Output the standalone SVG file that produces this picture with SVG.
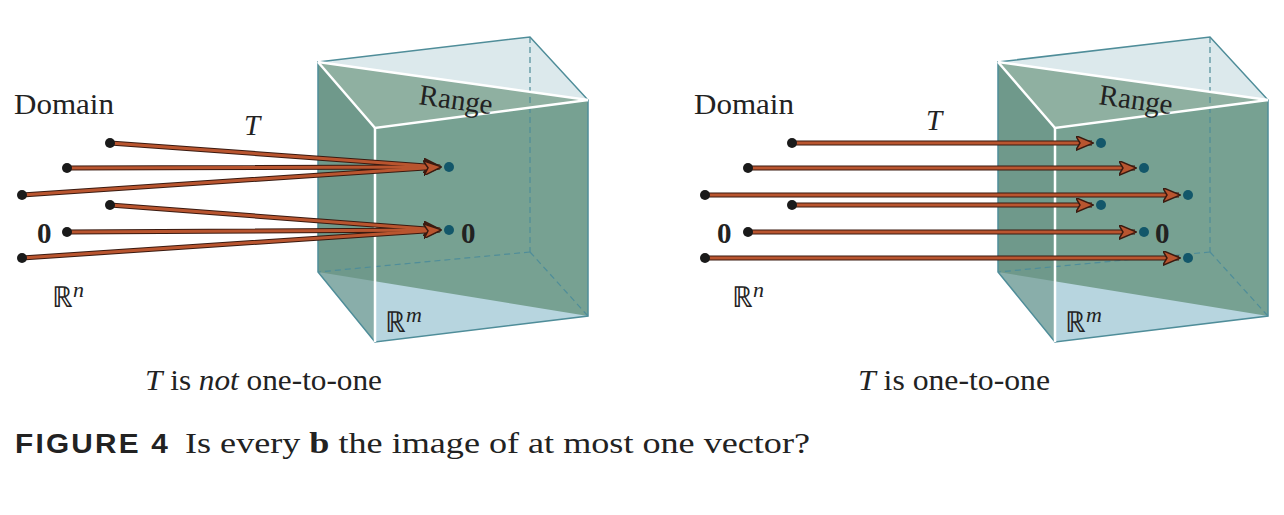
<svg xmlns="http://www.w3.org/2000/svg" width="1284" height="515" viewBox="0 0 1284 515">
<defs>
<style>
.t{font-family:"Liberation Serif",serif;font-size:29px;fill:#222}
.edge{fill:none;stroke:#4f8d99;stroke-width:1.5}
.dash{fill:none;stroke:#4f8d99;stroke-width:1.2;stroke-dasharray:6 4}
.wht{fill:none;stroke:#fff;stroke-width:2.5}
.aO{stroke:#3a1a10;stroke-width:5;fill:none}
.aI{stroke:#b9552f;stroke-width:3;fill:none}
</style>
<marker id="ah" viewBox="0 0 12 10" refX="11" refY="5" markerWidth="6" markerHeight="5" orient="auto" markerUnits="strokeWidth"><path d="M0,0 L12,5 L0,10 L3,5Z" fill="#b9552f" stroke="#3a1a10" stroke-width="1"/></marker>
<g id="box">
<polygon points="318,62 530,37 588,100 375,128" fill="#dce9ec"/>
<polygon points="318,272 375,342 588,316 530,252" fill="#b7d5df"/>
<polygon points="318,62 588,100 588,316 318,272" fill="#77a192"/>
<polygon points="318,62 375,128 588,100" fill="#8fb0a1"/>
<polygon points="318,62 375,128 375,342 318,272" fill="#6a9587" opacity="0.6"/>
<line class="dash" x1="530" y1="37" x2="530" y2="252"/>
<line class="dash" x1="530" y1="252" x2="318" y2="272"/>
<line class="dash" x1="530" y1="252" x2="588" y2="316"/>
<polygon class="edge" points="318,62 530,37 588,100 588,316 375,342 318,272"/>
<polyline class="wht" points="318,62 375,128 588,100"/>
<line class="wht" x1="318" y1="62" x2="588" y2="100"/>
<line class="wht" x1="375" y1="128" x2="375" y2="342"/>
</g>
</defs>
<rect width="1284" height="515" fill="#fff"/>
<g id="left-box"><use href="#box"/></g>
<g id="right-box"><use href="#box" transform="translate(680,0)"/></g>
<g id="labels">
<text class="t" x="14" y="114" textLength="100" lengthAdjust="spacingAndGlyphs">Domain</text>
<text class="t" x="244" y="135" font-style="italic">T</text>
<text class="t" x="418" y="104" transform="rotate(8 418 104)">Range</text>
<text class="t" x="37" y="243" font-weight="bold">0</text>
<text class="t" x="461" y="243" font-weight="bold">0</text>
<text class="t" x="52" y="307">ℝ<tspan font-style="italic" dy="-10" font-size="22">n</tspan></text>
<text class="t" x="385" y="332">ℝ<tspan font-style="italic" dy="-10" font-size="22">m</tspan></text>
<text class="t" x="145" y="390" textLength="237" lengthAdjust="spacingAndGlyphs"><tspan font-style="italic">T</tspan> is <tspan font-style="italic">not</tspan> one-to-one</text>
<text class="t" x="694" y="114" textLength="100" lengthAdjust="spacingAndGlyphs">Domain</text>
<text class="t" x="926" y="130" font-style="italic">T</text>
<text class="t" x="1098" y="104" transform="rotate(8 1098 104)">Range</text>
<text class="t" x="717" y="243" font-weight="bold">0</text>
<text class="t" x="1155" y="243" font-weight="bold">0</text>
<text class="t" x="732" y="307">ℝ<tspan font-style="italic" dy="-10" font-size="22">n</tspan></text>
<text class="t" x="1065" y="332">ℝ<tspan font-style="italic" dy="-10" font-size="22">m</tspan></text>
<text class="t" x="858" y="390" textLength="192" lengthAdjust="spacingAndGlyphs"><tspan font-style="italic">T</tspan> is one-to-one</text>
<text x="15" y="453" font-family="Liberation Sans,sans-serif" font-weight="bold" font-size="27" letter-spacing="2" fill="#222" textLength="155" lengthAdjust="spacingAndGlyphs">FIGURE 4</text>
<text class="t" x="185" y="453" font-size="30" textLength="625" lengthAdjust="spacingAndGlyphs">Is every <tspan font-weight="bold">b</tspan> the image of at most one vector?</text>
</g>
<g id="connectors">
<g class="aO">
<path d="M110,143L440,167M67,168L440,167M22,195L440,167M110,205L440,230M67,232L440,230M22,258L440,230"/>
<path d="M792,143L1092,143M748,168L1135,168M705,195L1179,195M792,205L1092,205M748,232L1135,232M705,258L1179,258"/>
</g>
<g class="aI" marker-end="url(#ah)">
<path d="M110,143L440,167"/><path d="M67,168L440,167"/><path d="M22,195L440,167"/>
<path d="M110,205L440,230"/><path d="M67,232L440,230"/><path d="M22,258L440,230"/>
<path d="M792,143L1092,143"/><path d="M748,168L1135,168"/><path d="M705,195L1179,195"/>
<path d="M792,205L1092,205"/><path d="M748,232L1135,232"/><path d="M705,258L1179,258"/>
</g>
</g>
<g id="dots">
<g fill="#1a1a1a">
<circle cx="110" cy="143" r="5"/><circle cx="67" cy="168" r="5"/><circle cx="22" cy="195" r="5"/>
<circle cx="110" cy="205" r="5"/><circle cx="67" cy="232" r="5"/><circle cx="22" cy="258" r="5"/>
<circle cx="792" cy="143" r="5"/><circle cx="748" cy="168" r="5"/><circle cx="705" cy="195" r="5"/>
<circle cx="792" cy="205" r="5"/><circle cx="748" cy="232" r="5"/><circle cx="705" cy="258" r="5"/>
</g>
<g fill="#13576a">
<circle cx="449" cy="167" r="5"/><circle cx="449" cy="230" r="5"/>
<circle cx="1101" cy="143" r="5"/><circle cx="1144" cy="168" r="5"/><circle cx="1188" cy="195" r="5"/>
<circle cx="1101" cy="205" r="5"/><circle cx="1144" cy="232" r="5"/><circle cx="1188" cy="258" r="5"/>
</g>
</g>
</svg>
